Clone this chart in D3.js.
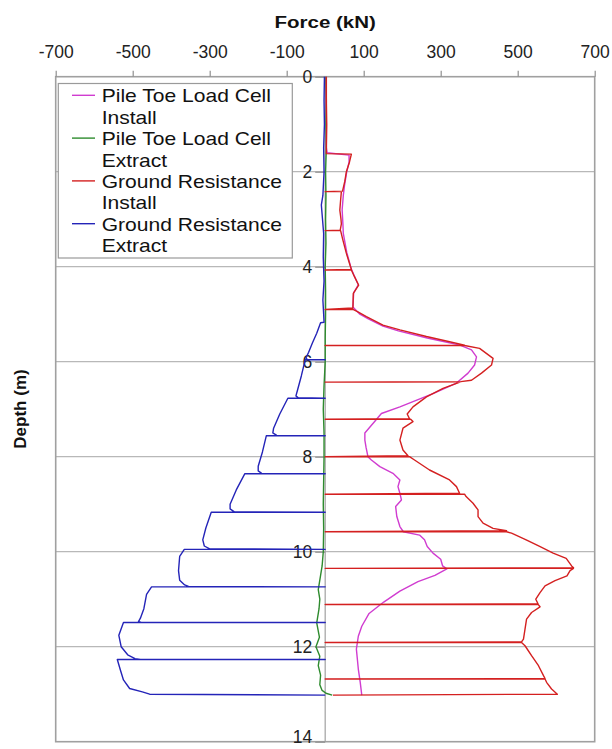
<!DOCTYPE html>
<html>
<head>
<meta charset="utf-8">
<script src="https://cdn.jsdelivr.net/npm/d3@7"></script>
<style>
  html, body { margin: 0; padding: 0; background: #fff; }
  svg { display: block; }
  text { font-family: "Liberation Sans", Arial, sans-serif; }
</style>
</head>
<body>
<svg id="chart" width="612" height="749"></svg>
<script>
// ---------------- DATA ----------------
const forceTicks = [-700, -500, -300, -100, 100, 300, 500, 700];
const depthTicks = [0, 2, 4, 6, 8, 10, 12, 14];
const depthGrid = [2, 4, 6, 8, 10, 12];

const seriesNames = [
  ["Pile Toe Load Cell", "Install"],
  ["Pile Toe Load Cell", "Extract"],
  ["Ground Resistance", "Install"],
  ["Ground Resistance", "Extract"]
];
const seriesColors = ["#d03cd0", "#2e8b2e", "#d42020", "#2424b8"];

// [depth (m), force (kN)]
const toeInstall = [
  [0,2],[0.5,2],[1.0,3],[1.5,3],[1.6,5],[1.65,62],[1.8,62],[2.0,56],[2.3,50],[2.5,47],
  [2.8,44],[3.1,46],[3.3,47],[3.7,56],[4.05,68],[4.2,76],[4.38,86],[4.55,74],[4.85,72],
  [5.0,90],[5.1,112],[5.25,150],[5.35,190],[5.5,265],[5.65,350],[5.75,380],[5.9,393],
  [6.07,388],[6.24,371],[6.45,341],[6.67,280],[6.95,194],[7.09,146],[7.3,124],[7.5,103],
  [7.65,103],[7.8,106],[8.0,111],[8.07,120],[8.21,142],[8.35,176],[8.49,194],[8.63,189],
  [8.77,194],[8.91,198],[9.05,183],[9.26,186],[9.47,194],[9.58,203],[9.65,245],[9.75,258],
  [9.89,265],[10.03,280],[10.16,300],[10.3,305],[10.36,316],[10.5,285],[10.63,241],
  [10.83,194],[11.06,152],[11.3,114],[11.57,95],[11.78,86],[12.05,81],[12.47,86],
  [12.75,91],[13.02,95]
];

const toeExtract = [
  [0,2],[0.5,3],[1,2],[1.5,3],[2,1],[2.5,2],[3,1],[3.5,2],[4,0],[4.5,1],[5,1],[5.5,0],
  [6,0],[6.5,-3],[7,-5],[7.5,-3],[8,-3],[8.5,-4],[9,-5],[9.5,-4],[10,-5],[10.3,-8],
  [10.5,-12],[10.8,-18],[11.0,-14],[11.2,-16],[11.5,-22],[11.8,-15],[12.0,-24],[12.2,-14],
  [12.4,-18],[12.6,-12],[12.8,-14],[12.92,-8],[12.98,2],[13.02,18]
];

const groundInstall = [
  [0,3],[0.5,3],[1.0,4],[1.5,3],[1.62,3],
  [1.63,68],[1.8,63],[2.0,55],[2.2,51],[2.41,45],[2.42,0],
  [2.42,42],[2.6,40],[2.81,38],[3.0,41],[3.1,42],[3.23,39],[3.24,0],
  [3.24,40],[3.44,46],[3.72,55],[4.06,68],[4.07,0],
  [4.07,68],[4.21,76],[4.39,87],[4.56,73],[4.87,72],[4.9,0],
  [4.9,72],[4.95,85],[5.05,107],[5.23,150],[5.33,194],[5.47,263],[5.58,323],[5.65,362],[5.66,0],
  [5.66,362],[5.72,401],[5.93,436],[6.07,432],[6.24,406],[6.39,380],[6.42,352],[6.43,0],
  [6.43,350],[6.56,306],[6.74,263],[6.95,228],[7.1,213],[7.2,219],[7.21,0],
  [7.21,222],[7.26,228],[7.4,202],[7.65,194],[7.86,202],[7.98,215],[8.0,0],
  [8.0,219],[8.07,232],[8.28,271],[8.49,323],[8.63,341],[8.77,349],[8.79,0],
  [8.79,362],[8.84,366],[8.98,384],[9.12,397],[9.26,397],[9.4,410],[9.51,436],[9.56,471],[9.58,0],
  [9.58,471],[9.61,484],[9.75,522],[9.89,557],[10.03,592],[10.14,626],[10.3,640],[10.34,645],[10.35,0],
  [10.35,645],[10.4,636],[10.51,628],[10.61,597],[10.72,571],[10.86,558],[11.0,547],[11.1,553],[11.11,0],
  [11.11,553],[11.16,558],[11.28,536],[11.42,523],[11.63,519],[11.84,515],[11.9,510],[11.91,0],
  [11.91,510],[11.98,519],[12.19,536],[12.4,554],[12.61,567],[12.67,571],[12.68,0],
  [12.68,571],[12.75,575],[12.89,588],[13.0,603],[13.02,20]
];

const groundExtract = [
  [0,-2],[0.5,-3],[1.0,-2],[1.5,-4],[2.0,-3],[2.5,-6],[2.7,-10],[2.9,-8],[3.3,-4],
  [3.8,-5],[4.3,-3],[4.7,-6],[5.0,-4],[5.17,-3],
  [5.18,-12],[5.4,-22],[5.6,-33],[5.8,-43],[5.92,-50],[5.96,-46],[5.96,0],
  [5.96,-52],[6.3,-62],[6.6,-72],[6.72,-76],[6.76,-70],[6.77,0],
  [6.77,-97],[7.1,-118],[7.4,-134],[7.5,-136],[7.55,-126],[7.56,0],
  [7.56,-153],[7.9,-163],[8.2,-174],[8.3,-174],[8.35,-165],[8.36,0],
  [8.36,-209],[8.7,-231],[9.0,-247],[9.1,-247],[9.16,-236],[9.17,0],
  [9.17,-296],[9.5,-310],[9.75,-318],[9.88,-314],[9.94,-300],[9.95,0],
  [9.95,-366],[10.1,-378],[10.4,-381],[10.6,-378],[10.7,-365],[10.73,-355],[10.74,0],
  [10.74,-451],[10.9,-464],[11.2,-471],[11.4,-480],[11.47,-485],[11.49,-478],[11.49,0],
  [11.49,-524],[11.76,-536],[12.0,-530],[12.17,-513],[12.25,-494],[12.27,-480],[12.27,0],
  [12.27,-540],[12.49,-532],[12.7,-524],[12.88,-508],[12.95,-475],[13.0,-456],[13.02,0]
];

const seriesData = [toeInstall, toeExtract, groundInstall, groundExtract];

// ---------------- LAYOUT ----------------
const svg = d3.select("#chart");
const plot = { left: 55.7, right: 594.7, top: 76.7, bottom: 741.7 };

const x = d3.scaleLinear().domain([-700, 700]).range([plot.left, plot.right]);
const y = d3.scaleLinear().domain([0, 14]).range([plot.top, plot.bottom]);

// horizontal grid lines
svg.append("g").selectAll("line").data(depthGrid).join("line")
  .attr("x1", plot.left).attr("x2", plot.right)
  .attr("y1", d => y(d)).attr("y2", d => y(d))
  .attr("stroke", "#b8b8b8").attr("stroke-width", 1.3);

// vertical zero line
svg.append("line")
  .attr("x1", x(0)).attr("x2", x(0))
  .attr("y1", plot.top).attr("y2", plot.bottom)
  .attr("stroke", "#a8a8a8").attr("stroke-width", 1.3);

// plot border
svg.append("rect")
  .attr("x", plot.left).attr("y", plot.top)
  .attr("width", plot.right - plot.left).attr("height", plot.bottom - plot.top)
  .attr("fill", "none").attr("stroke", "#a0a0a0").attr("stroke-width", 1.6);

const plainFormat = d => String(d);

// top x axis
const xAxis = svg.append("g")
  .attr("transform", `translate(0,${plot.top})`)
  .call(d3.axisTop(x).tickValues(forceTicks).tickSize(6).tickPadding(13).tickFormat(plainFormat));
xAxis.select(".domain").remove();
xAxis.selectAll(".tick line").attr("stroke", "#909090").attr("stroke-width", 1.2);
xAxis.selectAll(".tick text")
  .attr("fill", "#222").style("font-size", "17.5px")
  .style("font-family", "'Liberation Sans', Arial, sans-serif");

// y axis along zero line
const yAxis = svg.append("g")
  .attr("transform", `translate(${x(0)},0)`)
  .call(d3.axisLeft(y).tickValues(depthTicks).tickSize(10).tickPadding(3).tickFormat(plainFormat));
yAxis.select(".domain").remove();
yAxis.selectAll(".tick line").attr("stroke", "#909090").attr("stroke-width", 1.2);
yAxis.selectAll(".tick text")
  .attr("fill", "#222").style("font-size", "17.5px")
  .style("font-family", "'Liberation Sans', Arial, sans-serif");
// keep the bottom label inside the canvas
yAxis.selectAll(".tick text").filter(d => d === 14).attr("dy", "0.05em");

// data lines
const line = d3.line().x(d => x(d[1])).y(d => y(d[0]));
svg.append("g").selectAll("path").data(seriesData).join("path")
  .attr("d", d => line(d))
  .attr("fill", "none")
  .attr("stroke", (d, i) => seriesColors[i])
  .attr("stroke-width", 1.4)
  .attr("stroke-linejoin", "round");

// helper for horizontally stretched text
function stretchedText(g, str, tx, ty, k, size, weight, anchor) {
  return g.append("text")
    .attr("transform", `translate(${tx},${ty}) scale(${k},1)`)
    .attr("text-anchor", anchor || "start")
    .style("font-size", size + "px")
    .style("font-weight", weight || "normal")
    .attr("fill", "#111")
    .text(str);
}

// axis titles
stretchedText(svg, "Force (kN)", x(0), 28, 1.28, 16, "bold", "middle");
svg.append("text")
  .attr("transform", `translate(26,${409}) rotate(-90)`)
  .attr("text-anchor", "middle")
  .style("font-size", "17px").style("font-weight", "bold")
  .attr("fill", "#111")
  .text("Depth (m)");

// legend
const leg = svg.append("g");
leg.append("rect")
  .attr("x", 58.3).attr("y", 83.5).attr("width", 234).attr("height", 174.5)
  .attr("fill", "#fff").attr("stroke", "#9a9a9a").attr("stroke-width", 1.2);
seriesNames.forEach((lines, i) => {
  const base = 102.3 + i * 42.8;
  leg.append("line")
    .attr("x1", 72).attr("x2", 95)
    .attr("y1", base - 7).attr("y2", base - 7)
    .attr("stroke", seriesColors[i]).attr("stroke-width", 1.4);
  lines.forEach((t, j) => {
    stretchedText(leg, t, 101.7, base + j * 21.4, 1.17, 18, "normal", "start");
  });
});
</script>
</body>
</html>
